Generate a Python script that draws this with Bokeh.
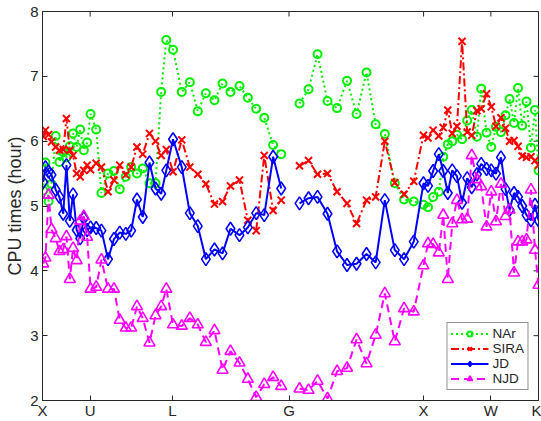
from bokeh.plotting import figure
from bokeh.models import (FixedTicker, Legend, LegendItem, Range1d,
                          ColumnDataSource)
from bokeh.embed import file_html
from bokeh.resources import INLINE

NAN = float("nan")

# high-symmetry points along the k-path (units of 2*pi/a)
sym_k = [0.0, 0.354, 0.966, 1.832, 2.832, 3.332, 3.686]
sym_labels = ["X", "U", "L", "G", "X", "W", "K"]

# k-points at which the CPU times were measured (1.832 = G, no data)
k_path = [0.005, 0.022, 0.045, 0.067, 0.098, 0.126, 0.154, 0.178, 0.203, 0.227,
          0.254, 0.280, 0.307, 0.332, 0.357, 0.399, 0.438, 0.487, 0.531, 0.574,
          0.619, 0.659, 0.702, 0.745, 0.795, 0.840, 0.882, 0.920, 0.970, 1.035,
          1.095, 1.154, 1.214, 1.278, 1.338, 1.397, 1.464, 1.526, 1.588, 1.648,
          1.714, 1.774,
          1.832,
          1.910, 1.977, 2.044, 2.118, 2.189, 2.263, 2.334, 2.408, 2.476, 2.544,
          2.618, 2.687, 2.759,
          2.831, 2.865, 2.903, 2.945, 2.978, 3.012, 3.045, 3.080, 3.118, 3.156,
          3.190, 3.228, 3.260, 3.300, 3.335, 3.370, 3.407, 3.441, 3.471, 3.504,
          3.534, 3.565, 3.597, 3.630, 3.660, 3.686]

nar = [5.24, 5.67, 5.07, 5.34, 6.08, 5.68, 5.83, 5.75, 5.92, 6.12,
       5.91, 6.18, 5.86, 5.98, 6.42, 6.18, 5.20, 5.50, 5.54, 5.26,
       5.45, 5.60, 5.50, 5.58, 5.35, 5.35, 6.76, 7.56, 7.41, 6.76,
       6.91, 6.46, 6.74, 6.63, 6.89, 6.76, 6.85, 6.67, 6.50, 6.36,
       5.94, 5.80,
       NAN,
       6.58, 6.80, 7.34, 6.62, 6.51, 6.93, 6.42, 7.06, 6.26, 6.11,
       5.35, 5.10, 5.07,
       5.02, 4.98, 5.14, 5.22, 5.76, 5.95, 6.00, 6.10, 6.03, 6.32,
       6.48, 6.07, 6.81, 6.13, 5.91, 6.22, 6.14, 6.40, 6.65, 6.28,
       6.82, 6.24, 6.61, 5.90, 6.48, 5.55]

sira = [6.07, 6.17, 6.10, 5.99, 5.91, 5.86, 5.87, 6.35, 5.86, 5.78,
        5.50, 5.45, 5.55, 5.63, 5.56, 5.66, 5.60, 5.22, 5.40, 5.63,
        5.48, 5.60, 5.91, 5.80, 6.12, 6.00, 5.78, 5.87, 5.53, 6.02,
        5.60, 5.49, 5.34, 5.03, 5.07, 5.31, 5.40, 4.78, 4.62, 5.78,
        4.93, 5.09,
        NAN,
        5.62, 5.70, 5.49, 5.50, 5.22, 5.04, 4.73, 5.09, 5.14, 6.00,
        5.36, 5.18, 5.38,
        6.09, 6.05, 6.17, 6.08, 6.21, 6.48, 6.12, 6.23, 7.54, 6.14,
        6.09, 6.47, 6.50, 6.73, 6.53, 6.23, 6.36, 6.20, 6.00, 6.01,
        5.92, 5.77, 5.75, 5.76, 5.70, 5.63]

jd = [5.37, 5.60, 5.53, 5.48, 5.25, 5.14, 4.88, 5.63, 4.77, 5.18,
      4.63, 4.50, 4.81, 4.63, 4.67, 4.66, 4.62, 4.18, 4.49, 4.59,
      4.57, 4.62, 5.10, 4.83, 5.67, 5.27, 5.19, 5.55, 6.03, 5.60,
      4.89, 4.69, 4.18, 4.33, 4.27, 4.65, 4.55, 4.67, 4.89, 4.86,
      5.76, 5.27,
      NAN,
      5.04, 5.12, 5.14, 4.88, 4.30, 4.09, 4.11, 4.26, 4.13, 5.09,
      4.32, 4.18, 4.45,
      5.35, 5.31, 5.54, 5.80, 5.54, 5.20, 5.55, 5.46, 5.05, 5.43,
      5.29, 5.49, 5.65, 5.57, 5.55, 5.50, 5.75, 5.26, 4.94, 5.20,
      5.14, 5.00, 4.86, 4.78, 5.02, 4.78]

njd = [4.11, 4.20, 5.17, 4.64, 4.50, 4.30, 4.33, 4.53, 3.87, 4.35,
       4.16, 4.77, 4.84, 4.52, 3.72, 3.75, 4.17, 3.72, 3.72, 3.24,
       3.12, 3.12, 3.45, 3.27, 2.89, 3.31, 3.45, 3.72, 3.17, 3.15,
       3.27, 3.17, 2.90, 3.08, 2.47, 2.76, 2.58, 2.33, 2.05, 2.25,
       2.36, 2.22,
       NAN,
       2.18, 2.16, 2.30, 2.03, 2.45, 2.50, 2.94, 2.57, 3.01, 3.65,
       2.91, 3.42, 3.37,
       4.08, 4.42, 4.41, 4.28, 4.86, 3.87, 4.73, 5.09, 4.79, 4.80,
       5.78, 5.41, 5.30, 4.68, 5.22, 4.76, 5.34, 4.84, 4.94, 3.97,
       4.45, 4.45, 4.48, 5.25, 4.32, 3.78]

y_ticks = [2, 3, 4, 5, 6, 7, 8]

FONT = "Liberation Sans"
INK = "#262626"

W, H = 541, 421
B_LEFT, B_RIGHT, B_TOP, B_BOTTOM = 42, 3, 11, 20
FRAME_W = W - B_LEFT - B_RIGHT
FRAME_H = H - B_TOP - B_BOTTOM
TICK_PX = 5

x0, x1 = sym_k[0], sym_k[-1]
y0, y1 = y_ticks[0], y_ticks[-1]

p = figure(width=W, height=H,
           x_range=Range1d(x0, x1), y_range=Range1d(y0, y1),
           output_backend="svg", toolbar_location=None,
           min_border_left=B_LEFT, min_border_right=B_RIGHT,
           min_border_top=B_TOP, min_border_bottom=B_BOTTOM)
p.grid.visible = False
p.outline_line_color = INK
p.outline_line_width = 1
p.background_fill_color = "white"
p.border_fill_color = "white"


def style_axis(ax):
    ax.axis_line_color = INK
    ax.major_tick_line_color = INK
    ax.major_tick_in = TICK_PX
    ax.major_tick_out = 0
    ax.minor_tick_line_color = None
    ax.major_label_text_font = FONT
    ax.major_label_text_font_size = "15px"
    ax.major_label_text_color = INK


xa = p.xaxis[0]
xa.ticker = FixedTicker(ticks=sym_k)
xa.major_label_overrides = {k: lab for k, lab in zip(sym_k, sym_labels)}
style_axis(xa)
xa.major_label_standoff = 1

ya = p.yaxis[0]
ya.ticker = FixedTicker(ticks=y_ticks)
style_axis(ya)
ya.major_label_standoff = 4
ya.axis_label = "CPU times (hour)"
ya.axis_label_text_font = FONT
ya.axis_label_text_font_size = "18px"
ya.axis_label_text_font_style = "normal"
ya.axis_label_text_color = INK
ya.axis_label_standoff = 2

# inward ticks on the top and right edges of the box (MATLAB "box on")
dy_tick = TICK_PX * (y1 - y0) / FRAME_H
dx_tick = TICK_PX * (x1 - x0) / FRAME_W
p.segment(x0=sym_k, y0=[y1] * len(sym_k), x1=sym_k,
          y1=[y1 - dy_tick] * len(sym_k), line_color=INK, line_width=1)
p.segment(x0=[x1] * len(y_ticks), y0=y_ticks,
          x1=[x1 - dx_tick] * len(y_ticks), y1=y_ticks,
          line_color=INK, line_width=1)

src = ColumnDataSource(data=dict(k=k_path, nar=nar, sira=sira, jd=jd, njd=njd))

series = [
    ("NAr", "nar", "#00ee00", "2 3", "circle", 8, 2),
    ("SIRA", "sira", "#ff0000", "8 3 2 3", "x", 10, 2),
    ("JD", "jd", "#0000ff", "solid", "diamond", 13, 1.6),
    ("NJD", "njd", "#ff00ff", "8 5", "triangle", 11, 1.6),
]

items = []
for label, col, color, dash, marker, size, mlw in series:
    lr = p.line("k", col, source=src, line_color=color, line_width=2,
                line_dash=dash)
    sr = p.scatter("k", col, source=src, marker=marker, size=size,
                   line_color=color, fill_color=None, line_width=mlw)
    items.append(LegendItem(label=label, renderers=[lr, sr]))

legend = Legend(items=items, location="bottom_right")
legend.border_line_color = INK
legend.border_line_width = 1
legend.background_fill_color = "white"
legend.background_fill_alpha = 1
legend.label_text_font = FONT
legend.label_text_font_size = "13.5px"
legend.label_text_color = INK
legend.glyph_width = 38
legend.glyph_height = 13
legend.label_height = 13
legend.label_standoff = 4
legend.spacing = 0
legend.padding = 3
legend.margin = 10
p.add_layout(legend)

open("out.html", "w").write(file_html(p, INLINE))
